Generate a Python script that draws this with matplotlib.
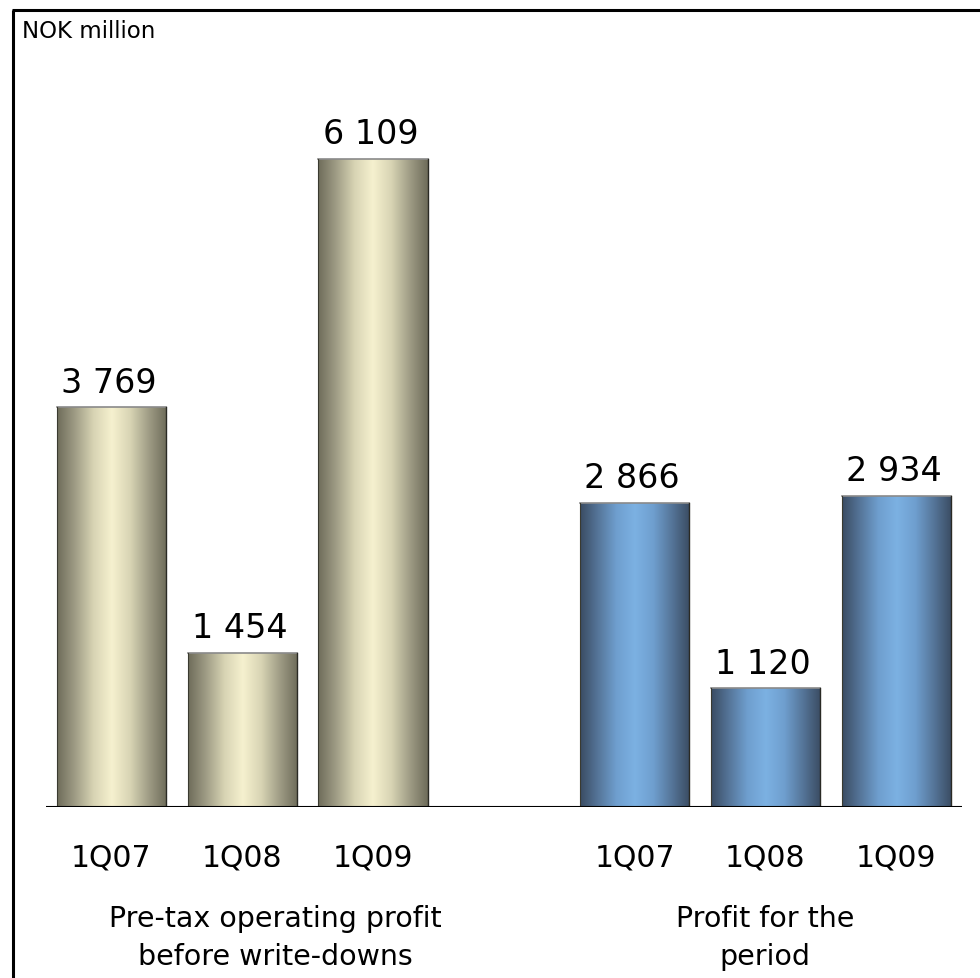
import numpy as np
import matplotlib
matplotlib.use("Agg")
import matplotlib.pyplot as plt
from matplotlib.colors import LinearSegmentedColormap

# Data
periods = ["1Q07", "1Q08", "1Q09"]
pretax_profit = [3769, 1454, 6109]
period_profit = [2866, 1120, 2934]
group_labels = ["Pre-tax operating profit\nbefore write-downs", "Profit for the\nperiod"]
unit_label = "NOK million"

positions_a = [0, 1, 2]
positions_b = [4, 5, 6]

W, H = 980, 979
fig = plt.figure(figsize=(W / 100, H / 100), dpi=100)
fig.patch.set_facecolor("white")

base_y = 808
top_y = 100
scale = 400 / 3769  # pixels per NOK million
ax = fig.add_axes([46 / W, (H - base_y) / H, (961.5 - 46) / W, (base_y - top_y) / H])
ax.set_xlim(-0.5, 6.5)
ax.set_ylim(0, (base_y - top_y) / scale)
ax.axis("off")

beige = LinearSegmentedColormap.from_list(
    "beige", ["#6e6c5a", "#a09d86", "#d8d4b4", "#f6f1cf", "#d8d4b4", "#a09d86", "#6e6c5a"])
blue = LinearSegmentedColormap.from_list(
    "blue", ["#3a4c63", "#56769a", "#6f9fcf", "#7cb1e2", "#6f9fcf", "#56769a", "#3a4c63"])

grad = np.linspace(0, 1, 256).reshape(1, -1)
bar_w = 0.834


def gradient_bars(pos, vals, cmap):
    bars = ax.bar(pos, vals, width=bar_w, color="none", edgecolor="none", zorder=2)
    for rect, v in zip(bars, vals):
        x0 = rect.get_x()
        x1 = x0 + rect.get_width()
        im = ax.imshow(grad, extent=[x0, x1, 0, v], aspect="auto", cmap=cmap,
                       interpolation="bicubic", zorder=2)
        im.set_clip_path(rect)
        # thin outline: grey top edge, dark sides
        ax.plot([x0, x1], [v, v], color="#8a8a8a", lw=1.2, zorder=3)
        ax.plot([x0, x0], [0, v], color="#3a3a30", lw=0.8, zorder=3)
        ax.plot([x1, x1], [0, v], color="#2a2a24", lw=1.0, zorder=3)
        ax.text(x0 + rect.get_width() / 2 - 0.02, v + 80, f"{v:,}".replace(",", " "),
                ha="center", va="bottom", fontsize=24, family="DejaVu Sans", color="black")
    return bars


gradient_bars(positions_a, pretax_profit, beige)
gradient_bars(positions_b, period_profit, blue)

ax.set_aspect("auto")
ax.set_xlim(-0.5, 6.5)

# baseline
ax.axhline(0, color="black", lw=1.5, zorder=4)

# period labels below the baseline
for p, lab in zip(positions_a + positions_b, periods + periods):
    ax.text(p, -(858 - base_y) / scale, lab, ha="center", va="center",
            fontsize=21.5, family="DejaVu Sans", color="black", clip_on=False)

# group captions
ax.text(1.25, -(938 - base_y) / scale, group_labels[0], ha="center", va="center",
        fontsize=20.5, family="DejaVu Sans", linespacing=1.42, clip_on=False)
ax.text(5, -(938 - base_y) / scale, group_labels[1], ha="center", va="center",
        fontsize=20.5, family="DejaVu Sans", linespacing=1.42, clip_on=False)

# unit label
fig.text(22 / W, 1 - 32 / H, unit_label, ha="left", va="center", fontsize=16.5,
         family="DejaVu Sans")

# frame on left and top
fig.add_artist(plt.Line2D([13 / W, 13 / W], [0, 1 - 11 / H], color="black", lw=2.2,
                          solid_capstyle="butt", transform=fig.transFigure))
fig.add_artist(plt.Line2D([12 / W, 1], [1 - 11 / H, 1 - 11 / H], color="black", lw=2.2,
                          solid_capstyle="butt", transform=fig.transFigure))

fig.savefig("out.png", dpi=100, facecolor="white")
